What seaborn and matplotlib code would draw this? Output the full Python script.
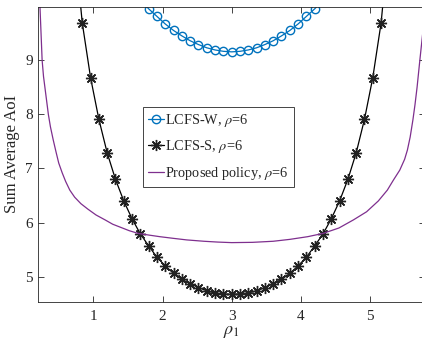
import matplotlib
matplotlib.use("Agg")
import matplotlib.pyplot as plt
import seaborn as sns
import numpy as np

# LCFS-W (circles)
w_rho1 = [1.68, 1.80, 1.92, 2.04, 2.16, 2.28, 2.40, 2.52, 2.64, 2.76, 2.88, 3.00,
          3.12, 3.24, 3.36, 3.48, 3.60, 3.72, 3.84, 3.96, 4.08, 4.20, 4.32]
w_aoi = [10.11, 9.95, 9.81, 9.67, 9.55, 9.45, 9.36, 9.29, 9.23, 9.19, 9.165, 9.155,
         9.165, 9.19, 9.23, 9.29, 9.36, 9.45, 9.55, 9.67, 9.81, 9.95, 10.11]

# LCFS-S (asterisks)
s_rho1 = [0.72, 0.84, 0.96, 1.08, 1.20, 1.32, 1.44, 1.56, 1.68, 1.80, 1.92, 2.04,
          2.16, 2.28, 2.40, 2.52, 2.64, 2.76, 2.88, 3.00, 3.12, 3.24, 3.36, 3.48,
          3.60, 3.72, 3.84, 3.96, 4.08, 4.20, 4.32, 4.44, 4.56, 4.68, 4.80, 4.92,
          5.04, 5.16, 5.28]
s_aoi = [11.3, 9.69, 8.68, 7.91, 7.29, 6.80, 6.40, 6.07, 5.79, 5.57, 5.36, 5.20,
         5.06, 4.95, 4.87, 4.80, 4.74, 4.70, 4.68, 4.675, 4.68, 4.70, 4.74, 4.80,
         4.87, 4.95, 5.06, 5.20, 5.36, 5.57, 5.79, 6.07, 6.40, 6.80, 7.29, 7.91,
         8.68, 9.69, 11.3]

# proposed policy (plain line)
p_rho1 = [0.20, 0.23, 0.26, 0.28, 0.32, 0.35, 0.38, 0.42, 0.46, 0.50, 0.55, 0.60,
          0.66, 0.73, 0.82, 0.92, 1.04, 1.17, 1.28, 1.40, 1.52, 1.65, 1.80, 1.96,
          2.15, 2.35, 2.60, 2.80, 3.00, 3.30, 3.60, 3.84, 4.10, 4.32, 4.55, 4.76,
          4.95, 5.12, 5.25, 5.34, 5.43, 5.50, 5.54, 5.58, 5.62, 5.65, 5.68, 5.72,
          5.77, 5.82]
p_aoi = [10.8, 9.95, 9.0, 8.7, 8.3, 8.0, 7.77, 7.53, 7.31, 7.10, 6.92, 6.76,
         6.60, 6.47, 6.35, 6.25, 6.14, 6.05, 5.97, 5.91, 5.85, 5.80, 5.77, 5.74,
         5.71, 5.68, 5.655, 5.64, 5.63, 5.635, 5.655, 5.69, 5.74, 5.80, 5.90, 6.05,
         6.20, 6.40, 6.60, 6.79, 6.97, 7.17, 7.34, 7.58, 7.9, 8.18, 8.5, 9.0,
         9.6, 10.3]

sns.set_style("ticks")
plt.rcParams['font.family'] = ['Liberation Serif', 'DejaVu Serif']
plt.rcParams['mathtext.fontset'] = 'stix'

fig = plt.figure(figsize=(4.22, 3.40), dpi=100)
ax = fig.add_axes([0.090, 0.1126, 0.918, 0.867])

sns.lineplot(x=w_rho1, y=w_aoi, ax=ax, color='#0072BD', linewidth=0.9,
             marker='o', markersize=6, markerfacecolor='none',
             markeredgecolor='#0072BD', markeredgewidth=1.0,
             label=r'LCFS-W, $\rho$=6')
sns.lineplot(x=s_rho1, y=s_aoi, ax=ax, color='k', linewidth=0.9,
             marker=(8, 2, 0), markersize=8, markeredgecolor='#222222',
             markeredgewidth=1.0, label=r'LCFS-S, $\rho$=6')
sns.lineplot(x=p_rho1, y=p_aoi, ax=ax, color='#7E2F8E', linewidth=0.9,
             label=r'Proposed policy, $\rho$=6')

ax.set_xlim(0.2, 5.8)
ax.set_ylim(4.538, 9.985)
ax.set_xticks([1, 2, 3, 4, 5])
ax.set_yticks([5, 6, 7, 8, 9])
ax.tick_params(direction='in', top=True, right=True, length=4, width=0.6,
               labelsize=11, colors='#262626', labelcolor='#262626')
ax.tick_params(axis='x', pad=6)
for sp in ax.spines.values():
    sp.set_visible(True)
    sp.set_color('#262626')
    sp.set_linewidth(0.6)

ax.set_xlabel(r'$\rho_1$', fontsize=13, labelpad=0)
ax.set_ylabel('Sum Average AoI', fontsize=12, labelpad=4)

leg = ax.legend(loc='upper left', bbox_to_anchor=(0.339, 0.685),
                bbox_transform=fig.transFigure, borderaxespad=0,
                fontsize=10.3, frameon=True, fancybox=False, framealpha=1,
                edgecolor='#262626', handlelength=1.1, handletextpad=0.1,
                labelspacing=0.65, borderpad=0.35)
leg.get_frame().set_linewidth(0.6)

fig.savefig('out.png', dpi=100)
